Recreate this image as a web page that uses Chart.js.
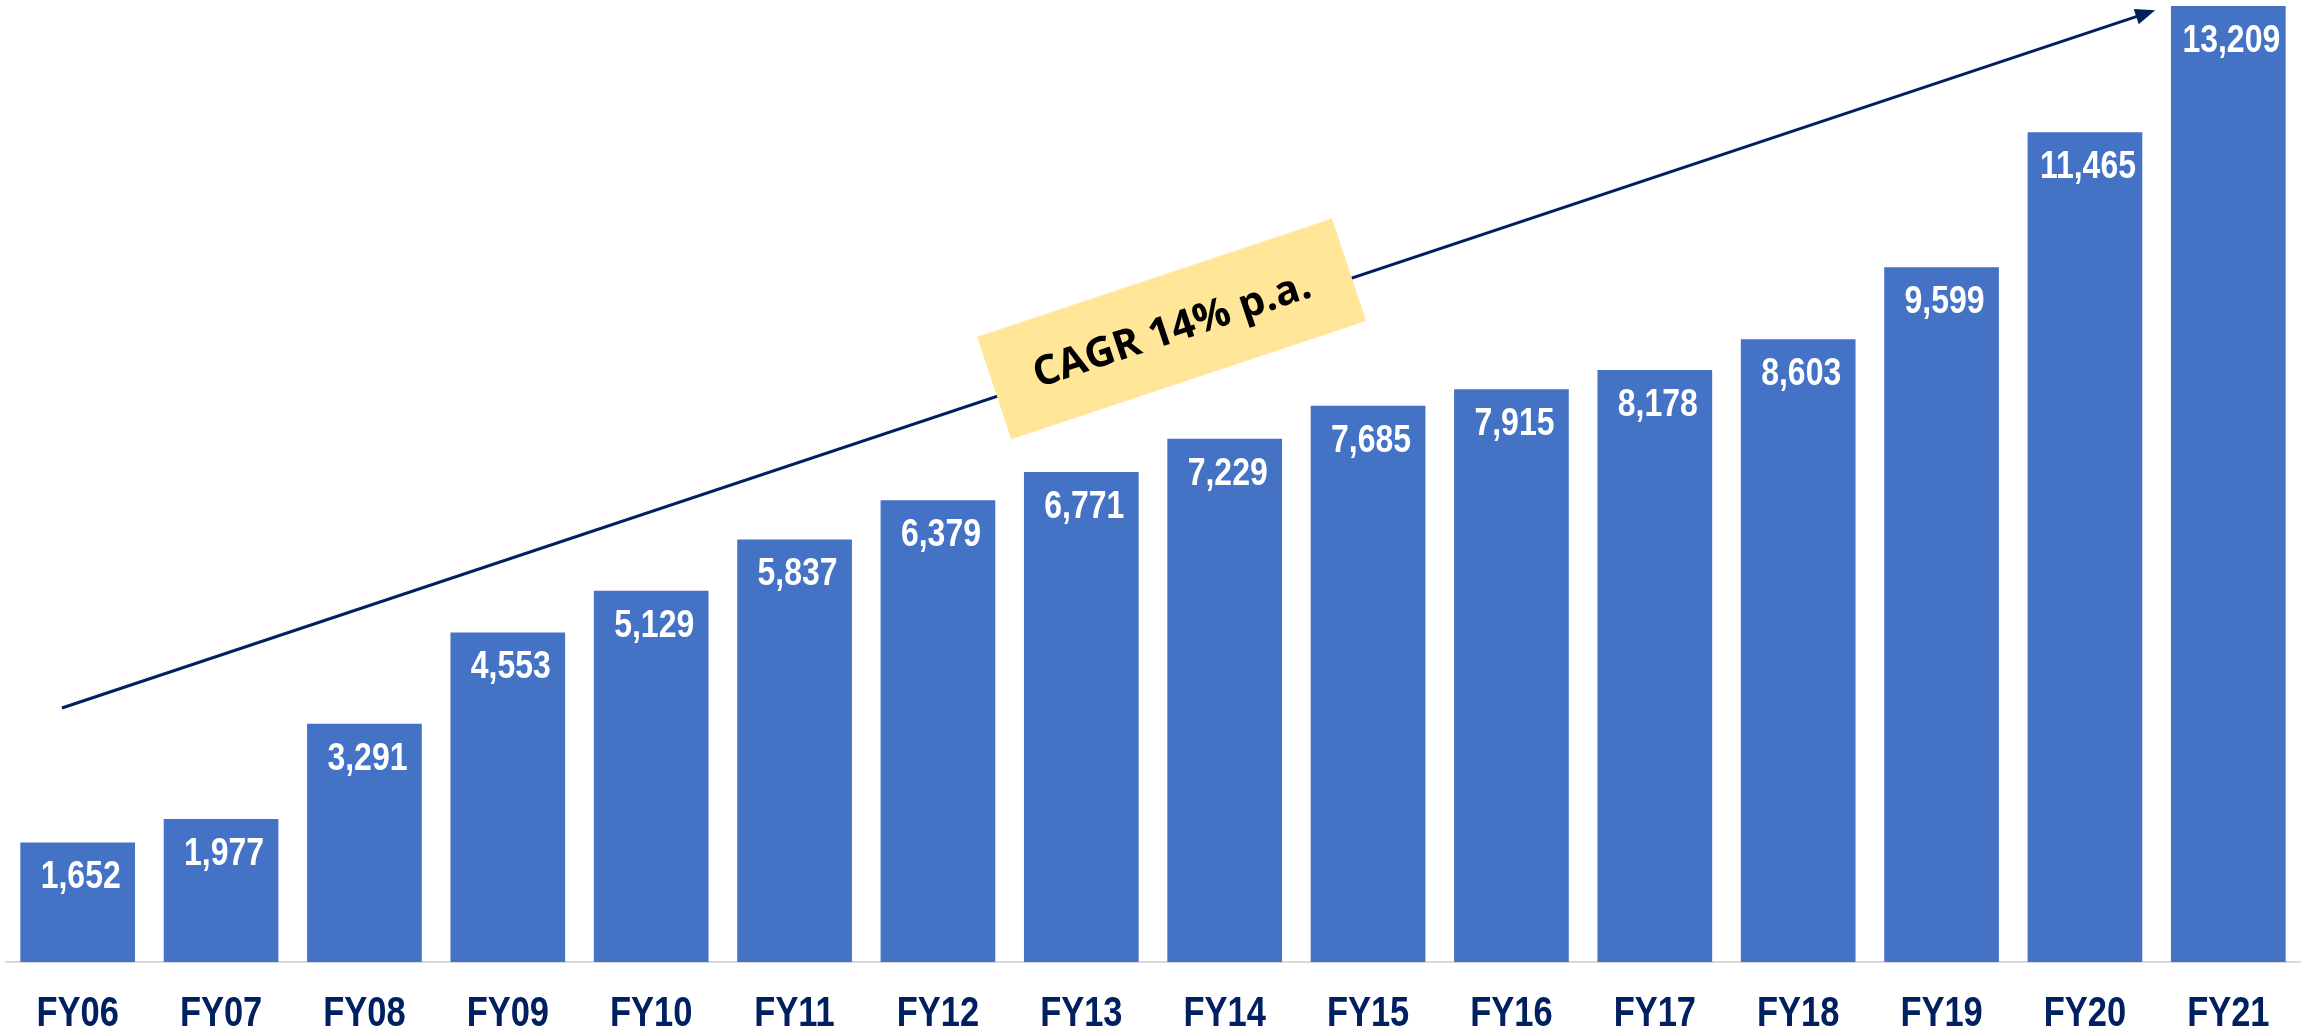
<!DOCTYPE html>
<html>
<head>
<meta charset="utf-8">
<script src="https://cdn.jsdelivr.net/npm/chart.js@4/dist/chart.umd.min.js"></script>
<style>
  html, body { margin: 0; padding: 0; background: #ffffff; }
  #wrap { width: 2305px; height: 1033px; position: relative; }
</style>
</head>
<body>
<div id="wrap"><canvas id="c"></canvas></div>
<script>
const categories = ['FY06','FY07','FY08','FY09','FY10','FY11','FY12','FY13','FY14','FY15','FY16','FY17','FY18','FY19','FY20','FY21'];
const values = [1652, 1977, 3291, 4553, 5129, 5837, 6379, 6771, 7229, 7685, 7915, 8178, 8603, 9599, 11465, 13209];
const cagrLabel = 'CAGR 14% p.a.';
// arrow endpoints in data space: [category index (fractional), value]
const arrowStart = [-0.11, 3510];
const arrowEnd = [14.49, 13150];
const boxCenter = [7.63, 8747];

const sansBold = '"Liberation Sans", Arial, sans-serif';
const NARROW = 0.82;

function narrowText(ctx, txt, x, y) {
  ctx.save();
  ctx.translate(x, y);
  ctx.scale(NARROW, 1);
  ctx.fillText(txt, 0, 0);
  ctx.restore();
}

const overlay = {
  id: 'overlay',
  afterDatasetsDraw(chart) {
    const ctx = chart.ctx;
    const xs = chart.scales.x, ys = chart.scales.y;
    const meta = chart.getDatasetMeta(0);

    // category labels
    ctx.save();
    ctx.fillStyle = '#002060';
    ctx.font = 'bold 42px ' + sansBold;
    ctx.textAlign = 'center';
    ctx.textBaseline = 'middle';
    categories.forEach((c, i) => {
      narrowText(ctx, c, xs.getPixelForValue(i), chart.chartArea.bottom + 52);
    });
    ctx.restore();

    // value labels
    ctx.save();
    ctx.fillStyle = '#ffffff';
    ctx.font = 'bold 39px ' + sansBold;
    ctx.textAlign = 'center';
    ctx.textBaseline = 'middle';
    meta.data.forEach((bar, i) => {
      const txt = values[i].toLocaleString('en-US');
      narrowText(ctx, txt, bar.x + 3, bar.y + 35);
    });
    ctx.restore();

    // arrow
    const x1 = xs.getPixelForValue(arrowStart[0]), y1 = ys.getPixelForValue(arrowStart[1]);
    const x2 = xs.getPixelForValue(arrowEnd[0]), y2 = ys.getPixelForValue(arrowEnd[1]);
    const ang = Math.atan2(y2 - y1, x2 - x1);
    const headLen = 20, headW = 8;
    ctx.save();
    ctx.strokeStyle = '#002060';
    ctx.fillStyle = '#002060';
    ctx.lineWidth = 3;
    ctx.beginPath();
    ctx.moveTo(x1, y1);
    ctx.lineTo(x2 - Math.cos(ang) * headLen * 0.8, y2 - Math.sin(ang) * headLen * 0.8);
    ctx.stroke();
    ctx.translate(x2, y2);
    ctx.rotate(ang);
    ctx.beginPath();
    ctx.moveTo(0, 0);
    ctx.lineTo(-headLen, -headW);
    ctx.lineTo(-headLen, headW);
    ctx.closePath();
    ctx.fill();
    ctx.restore();

    // CAGR box
    const bx = xs.getPixelForValue(boxCenter[0]), by = ys.getPixelForValue(boxCenter[1]);
    ctx.save();
    ctx.translate(bx, by);
    ctx.rotate(ang);
    ctx.fillStyle = '#FFE699';
    ctx.fillRect(-187, -54, 374, 108);
    ctx.fillStyle = '#000000';
    ctx.font = 'bold 41px "Open Sans", "Noto Sans", sans-serif';
    ctx.textAlign = 'center';
    ctx.textBaseline = 'middle';
    ctx.fillText(cagrLabel, 0, 2);
    ctx.restore();
  }
};

new Chart(document.getElementById('c'), {
  type: 'bar',
  data: {
    labels: categories,
    datasets: [{
      data: values,
      backgroundColor: '#4472C4',
      borderWidth: 0,
      categoryPercentage: 0.8,
      barPercentage: 1.0
    }]
  },
  options: {
    responsive: true,
    maintainAspectRatio: false,
    animation: false,
    layout: { padding: { left: 6, right: 5, top: 6, bottom: 71 } },
    plugins: { legend: { display: false }, tooltip: { enabled: false } },
    scales: {
      x: {
        grid: { display: false, drawTicks: false },
        border: { display: true, color: '#D9D9D9', width: 2 },
        ticks: { display: false }
      },
      y: {
        display: false,
        min: 0,
        max: Math.max(...values)
      }
    }
  },
  plugins: [overlay]
});
</script>
</body>
</html>
